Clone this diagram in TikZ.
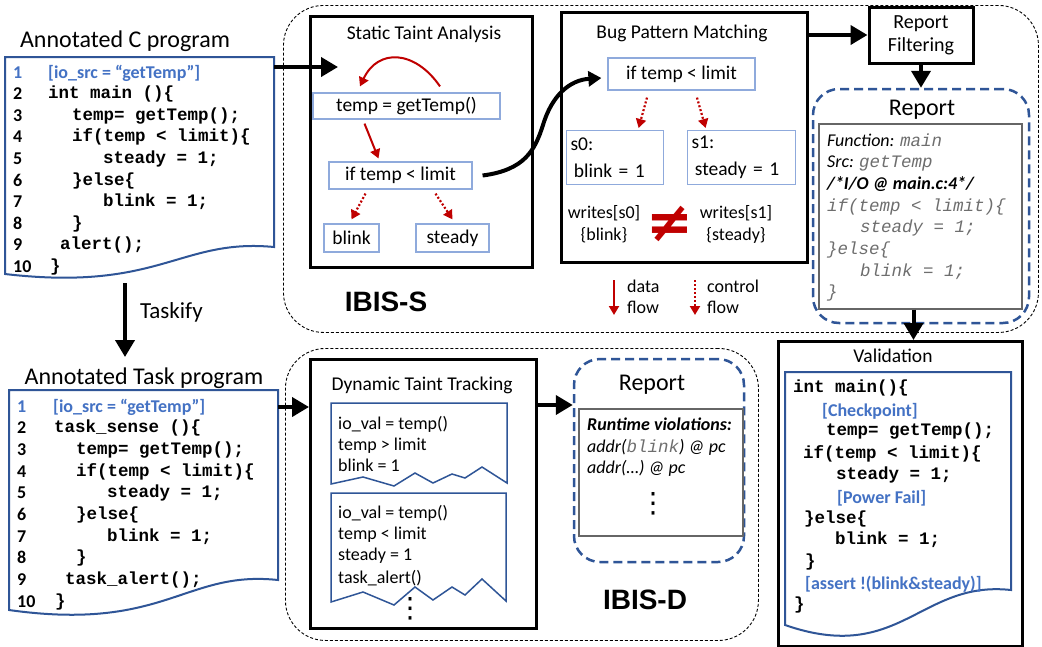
\documentclass[tikz,border=0pt]{standalone}
\usepackage{fontspec}
\setmainfont{Carlito}
\newfontfamily\codefont{Liberation Mono}
\newfontfamily\ibisfont{Liberation Sans}
\newfontfamily\symfont{DejaVu Sans}
\usetikzlibrary{arrows.meta,positioning,calc}

\definecolor{docblue}{RGB}{47,85,151}
\definecolor{annblue}{RGB}{68,114,196}
\definecolor{stmtblue}{RGB}{143,170,220}
\definecolor{flowred}{RGB}{192,0,0}
\definecolor{repgray}{RGB}{110,110,110}

\newcommand{\fsz}[2]{\fontsize{#1}{#2}\selectfont}
\newcommand{\repcode}[1]{{\codefont\fsz{17.5}{21.7}\color{repgray}#1}}

\tikzset{
  stage/.style = {draw, line width = 3pt, inner sep = 0pt},
  stmt/.style = {draw = stmtblue, line width = 1.2pt, inner sep = 0pt, font = \fsz{19.5}{23}},
  region/.style = {draw, dash pattern = on 3pt off 2pt, line width = 0.9pt, rounded corners = 40pt, inner sep = 0pt},
  report/.style = {draw = docblue, dash pattern = on 9pt off 5pt, line width = 2.5pt, rounded corners = 26pt, inner sep = 0pt},
  repbody/.style = {draw = black!60, line width = 1.2pt, inner sep = 0pt},
  doc/.style = {draw = docblue, line width = 2pt},
  lbl/.style = {font = \fsz{19.5}{23}, inner sep = 0pt},
  heading/.style = {font = \fsz{24}{28}, inner sep = 0pt},
  code/.style = {anchor = west, inner sep = 0pt, text height = 10pt, text depth = 0pt, font = \codefont\bfseries\fsz{17.5}{21.6}},
  lineno/.style = {anchor = west, inner sep = 0pt, text height = 12pt, text depth = 0pt, font = \bfseries\fsz{18}{21.6}},
  ann/.style = {anchor = west, inner sep = 0pt, text height = 12pt, text depth = 0pt, text = annblue, font = \bfseries\fsz{18}{21.6}},
  trace/.style = {anchor = west, inner sep = 0pt, text height = 12pt, text depth = 0pt, font = \fsz{18}{21.5}},
  reptext/.style = {anchor = west, inner sep = 0pt, text height = 12pt, text depth = 0pt, font = \itshape\fsz{18}{21.7}},
  vdot/.style = {font = \symfont\fsz{28}{28}, inner sep = 0pt},
  bigarrow/.style = {line width = 4pt, -{Triangle[length = 17pt, width = 19pt]}},
  dataflow/.style = {flowred, line width = 2pt, -{Triangle[length = 9pt, width = 10pt]}},
  ctrlflow/.style = {flowred, line width = 2.2pt, dash pattern = on 2pt off 2pt, -{Triangle[length = 9pt, width = 10pt]}},
  ibis/.style = {font = \ibisfont\bfseries\fsz{28}{32}, inner sep = 0pt}
}

\begin{document}
\begin{tikzpicture}[x = 1pt, y = -1pt]
\fill[white] (0,0) rectangle (1042,646);
\useasboundingbox (0,0) rectangle (1042,646);

% IBIS-S and IBIS-D
\node[region, anchor = north west, minimum width = 755pt, minimum height = 327pt] (ibiss) at (283,5) {};
\node[region, anchor = north west, minimum width = 473pt, minimum height = 292pt] (ibisd) at (285,348) {};

% annotated C program
\node[heading] (csrcT) at (125,41) {Annotated C program};
\draw[doc] (5,57) -- (274,57) -- (274,247) .. controls (180,238) and (160,292) .. (5,274) -- cycle;
\node[lineno, text = annblue] (cn1) at (13,72) {1};
\foreach \i in {2,...,10}
  \node[lineno] (cn\i) at (13,50.4+21.6*\i) {\i};
\node[ann] (cs1) at (48,72) {[io\_src = “getTemp”]};
\foreach \i/\x/\txt in {2/48/{int main ()\{}, 3/72/{temp= getTemp();}, 4/72/{if(temp < limit)\{},
    5/103/{steady = 1;}, 6/72/{\}else\{}, 7/103/{blink = 1;}, 8/72/{\}}, 9/60/{alert();}, 10/50/{\}}}
  \node[code] (cs\i) at (\x,50.4+21.6*\i) {\txt};
\coordinate (csrcE) at (274,67);
\coordinate (csrcS) at (125,283);
\coordinate (ctaskN) at (125,357);

% annotated task program
\node[heading] (ctaskT) at (144,378) {Annotated Task program};
\draw[doc] (9,390) -- (278,390) -- (278,580) .. controls (185,570) and (165,632) .. (9,610) -- cycle;
\node[lineno, text = annblue] (tn1) at (17,406) {1};
\foreach \i in {2,...,10}
  \node[lineno] (tn\i) at (17,384.3+21.7*\i) {\i};
\node[ann] (ts1) at (53,406) {[io\_src = “getTemp”]};
\foreach \i/\x/\txt in {2/54/{task\_sense ()\{}, 3/76/{temp= getTemp();}, 4/76/{if(temp < limit)\{},
    5/107/{steady = 1;}, 6/76/{\}else\{}, 7/107/{blink = 1;}, 8/76/{\}}, 9/65/{task\_alert();}, 10/55/{\}}}
  \node[code] (ts\i) at (\x,384.3+21.7*\i) {\txt};
\coordinate (ctaskE) at (278,407);

\draw[bigarrow] (csrcS) -- (ctaskN) node[pos = 0.4, right = 13pt, font = \fsz{23}{27}, inner sep = 0pt] (tsk) {Taskify};

% static taint analysis
\node[stage, anchor = north west, minimum width = 222pt, minimum height = 251pt] (sta) at (309,15) {};
\node[lbl] (staT) at (424,34) {Static Taint Analysis};
\node[stmt, minimum width = 187pt, minimum height = 26pt] (gettemp) at (406.5,106) {temp = getTemp()};
\node[stmt, minimum width = 143pt, minimum height = 27pt] (sif) at (400.5,175.5) {if temp < limit};
\node[stmt, minimum width = 55pt, minimum height = 28pt] (sblink) at (351.5,238) {blink};
\node[stmt, minimum width = 73pt, minimum height = 28pt] (ssteady) at (452.5,238) {steady};
\coordinate (staIn) at (338,67);
\draw[bigarrow] (csrcE) -- (staIn);
\draw[dataflow] ($(gettemp.north)+(33.5,-6)$) .. controls (415,50) and (378,48) .. ($(gettemp.north)+(-46.5,-6)$);
\draw[dataflow] ($(gettemp.south)+(-42,4)$) -- ($(sif.north)+(-22,-3)$);
\draw[ctrlflow] ($(sif.south)+(-35,4)$) -- ($(sblink.north)+(0,-4)$);
\draw[ctrlflow] ($(sif.south)+(35,4)$) -- ($(ssteady.north)+(0,-4)$);
\node[ibis] (ibisS) at (386,302) {IBIS-S};

% bug pattern matching
\node[stage, anchor = north west, minimum width = 246pt, minimum height = 250pt] (bpm) at (560,11) {};
\node[lbl] (bpmT) at (682,33) {Bug Pattern Matching};
\node[stmt, minimum width = 147pt, minimum height = 32pt] (bif) at (681.5,74) {if temp < limit};
\node[stmt, anchor = north west, minimum width = 97pt, minimum height = 54pt, text width = 89pt, align = left, inner sep = 4pt] (s0) at (566,130) {s0:\\[4pt]\,blink = 1};
\node[stmt, anchor = north west, minimum width = 108pt, minimum height = 54pt, text width = 100pt, align = left, inner sep = 4pt] (s1) at (687,130) {s1:\\[4pt]\,steady = 1};
\draw[ctrlflow] ($(bif.south)+(-34.5,7)$) -- ($(s0.north)+(23.5,-2)$);
\draw[ctrlflow] ($(bif.south)+(15.5,7)$) -- ($(s1.north)+(-36,-2)$);
\node[font = \fsz{18}{22}, align = center, inner sep = 0pt] (ws0) at (604,224) {writes[s0]\\\{blink\}};
\node[font = \fsz{18}{22}, align = center, inner sep = 0pt] (ws1) at (736,224) {writes[s1]\\\{steady\}};
\node[text = flowred, font = \symfont\bfseries\fsz{56}{56}, inner sep = 0pt] (neq) at (670,224) {≠};
\draw[line width = 4pt, -{Triangle[length = 13pt, width = 15pt]}] ($(sif.east)+(10,0)$) .. controls (525,170) and (535,150) .. (543,125) .. controls (552,95) and (570,80) .. ($(bif.west)+(-6,4)$);

% legend
\coordinate (ld1) at (614,280);
\coordinate (ld2) at (614,315);
\coordinate (lc1) at (695,280);
\coordinate (lc2) at (695,315);
\draw[dataflow] (ld1) -- (ld2);
\draw[ctrlflow] (lc1) -- (lc2);
\node[anchor = west, align = left, font = \fsz{18}{21}, inner sep = 0pt] (ldata) at (627,297) {data\\flow};
\node[anchor = west, align = left, font = \fsz{18}{21}, inner sep = 0pt] (lctrl) at (707,297) {control\\flow};

% report filtering and static report
\node[stage, minimum width = 104pt, minimum height = 56pt, align = center, font = \fsz{20}{23}] (rf) at (921,35) {Report\\Filtering};
\draw[bigarrow] (bpm.east |- rf.west) -- (rf.west);
\node[report, minimum width = 216pt, minimum height = 234pt] (rep1) at (921,206) {};
\draw[bigarrow] (rf.south) -- (rep1.north);
\node[heading] (rep1T) at (922,110) {Report};
\node[repbody, minimum width = 203pt, minimum height = 185pt] (rep1in) at (920.5,216.5) {};
\node[reptext] (r1) at (827,140) {Function: \repcode{main}};
\node[reptext] (r2) at (827,161.7) {Src: \repcode{getTemp}};
\node[reptext] (r3) at (827,183.4) {\textbf{/*I/O @ main.c:4*/}};
\node[reptext] (r4) at (827,205.1) {\repcode{if(temp < limit)\{}};
\node[reptext] (r5) at (860,226.8) {\repcode{steady = 1;}};
\node[reptext] (r6) at (827,248.5) {\repcode{\}else\{}};
\node[reptext] (r7) at (860,270.2) {\repcode{blink = 1;}};
\node[reptext] (r8) at (827,291.9) {\repcode{\}}};

% validation
\node[stage, anchor = north west, minimum width = 244pt, minimum height = 305pt] (val) at (777,340) {};
\node[lbl] (valT) at (893,356) {Validation};
\draw[bigarrow] ([xshift = -7pt]rep1in.south) -- ([xshift = -7pt]rep1in.south |- val.north);
\draw[doc] (785,372) -- (1011,372) -- (1011,590) .. controls (920,580) and (900,665) .. (785,625) -- cycle;
\foreach \x/\y/\txt [count = \k] in {793/387/{int main()\{}, 826/430/{temp= getTemp();}, 803/453/{if(temp < limit)\{},
    836/474/{steady = 1;}, 804/518/{\}else\{}, 835/539/{blink = 1;}, 805/561/{\}}, 794/604/{\}}}
  \node[code] (vc\k) at (\x,\y) {\txt};
\node[ann] (vchk) at (822,410) {[Checkpoint]};
\node[ann] (vpf) at (837,497) {[Power Fail]};
\node[ann] (vas) at (805,583) {[assert !(blink\&steady)]};

% dynamic taint tracking
\node[stage, anchor = north west, minimum width = 226pt, minimum height = 269pt] (dtt) at (309,358) {};
\node[lbl] (dttT) at (422,385) {Dynamic Taint Tracking};
\draw[bigarrow] (ctaskE) -- (ctaskE -| dtt.west);
\draw[doc, line width = 1.5pt] (331,403) -- (507,403) -- (507,483) -- (482,467) -- (465,478) -- (452,474) -- (433,483) -- (415,473) -- (394,486) -- (363,477) -- (331,484) -- cycle;
\draw[doc, line width = 1.5pt] (331,493) -- (506,493) -- (506,601) -- (482,579) -- (465,595) -- (452,587) -- (433,600) -- (415,587) -- (394,605) -- (363,592) -- (331,602) -- cycle;
\foreach \y/\txt [count = \k] in {423/{io\_val = temp()}, 444/{temp > limit}, 465/{blink = 1}}
  \node[trace] (ta\k) at (338,\y) {\txt};
\foreach \y/\txt [count = \k] in {512/{io\_val = temp()}, 533/{temp < limit}, 554/{steady = 1}, 577/{task\_alert()}}
  \node[trace] (tb\k) at (338,\y) {\txt};
\node[vdot] (tdots) at (410,609) {⋮};

% dynamic report
\node[report, minimum width = 170pt, minimum height = 203pt] (rep2) at (659,460.5) {};
\node[heading] (rep2T) at (652,385) {Report};
\node[repbody, minimum width = 164pt, minimum height = 127pt] (rep2in) at (661,472.5) {};
\coordinate (dttE) at (535,405);
\draw[bigarrow] (dttE) -- (dttE -| rep2.west);
\node[reptext] (v1) at (587,424) {\textbf{Runtime violations:}};
\node[reptext] (v2) at (587,446) {addr(\repcode{blink}) @ pc};
\node[reptext] (v3) at (587,467) {addr(…) @ pc};
\node[vdot] (rdots) at (653,504) {⋮};
\node[ibis] (ibisD) at (645,600) {IBIS-D};
\end{tikzpicture}
\end{document}
